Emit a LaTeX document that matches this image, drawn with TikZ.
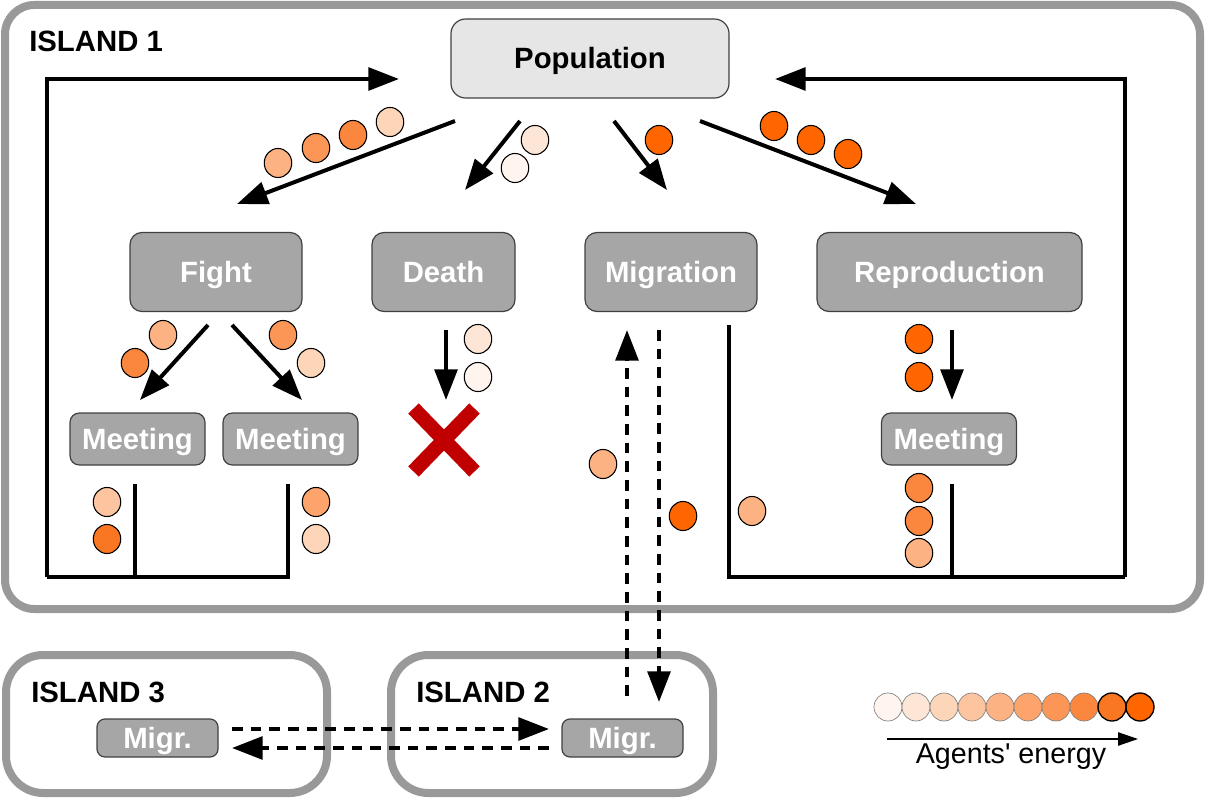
\documentclass[tikz,border=0pt]{standalone}
\usepackage{fontspec}
\setmainfont{Liberation Sans}
\newfontfamily\plainfont{Liberation Sans}[Ligatures=TeXOff]
\usetikzlibrary{arrows.meta,shapes.geometric}
\definecolor{islandgray}{HTML}{999999}
\definecolor{boxgray}{HTML}{A6A6A6}
\definecolor{popgray}{HTML}{E6E6E6}
\definecolor{boxline}{HTML}{404040}
\definecolor{xred}{HTML}{C00000}
\definecolor{e1}{HTML}{FFF5EE}
\definecolor{e2}{HTML}{FEE6D6}
\definecolor{e3}{HTML}{FDD5B8}
\definecolor{e4}{HTML}{FDC4A0}
\definecolor{e5}{HTML}{FCB282}
\definecolor{e6}{HTML}{FCA46C}
\definecolor{e7}{HTML}{FB9656}
\definecolor{e8}{HTML}{FA873D}
\definecolor{e9}{HTML}{F97722}
\definecolor{e10}{HTML}{FF6600}
\begin{document}
\begin{tikzpicture}[x=0.75pt,y=-0.75pt,
  island/.style={draw=islandgray, line width=6pt},
  lbl/.style={font=\fontsize{22}{26}\selectfont\bfseries, inner sep=0pt, anchor=base west},
  gbox/.style={draw=boxline, line width=0.9pt, fill=boxgray, rounded corners=9pt, text=white,
    font=\fontsize{22}{26}\selectfont\bfseries, inner sep=0pt, text height=15.7pt, text depth=0pt},
  popbox/.style={gbox, fill=popgray, text=black, rounded corners=11pt},
  arr/.style={line width=3pt, -{Triangle[length=23pt,width=17pt]}},
  darr/.style={arr, dash pattern=on 8pt off 6pt},
  loopline/.style={line width=3pt},
  ag/.style={ellipse, draw=black, line width=0.8pt, minimum width=20.6pt, minimum height=21.8pt, inner sep=0pt},
  leg/.style={circle, draw=gray, line width=0.5pt, minimum size=21pt, inner sep=0pt}
]
\useasboundingbox (0,0) rectangle (1208,799);
% islands
\draw[island, rounded corners=22pt] (5,5) rectangle (1200,609);
\draw[island, rounded corners=28pt] (6,655) rectangle (327,793);
\draw[island, rounded corners=28pt] (391,655) rectangle (713,793);
\node[lbl] (i1) at (29,52) {ISLAND 1};
\node[lbl] (i3) at (31,702) {ISLAND 3};
\node[lbl] (i2) at (416,702) {ISLAND 2};

% boxes
\node[popbox, minimum width=208.5pt, minimum height=59.25pt] (pop) at (590,58.5) {Population};
\node[gbox, minimum width=129pt, minimum height=59.25pt] (fight) at (216,272) {Fight};
\node[gbox, minimum width=107.25pt, minimum height=59.25pt] (death) at (443.5,272) {Death};
\node[gbox, minimum width=129pt, minimum height=59.25pt] (migr) at (671,272) {Migration};
\node[gbox, minimum width=198.75pt, minimum height=59.25pt] (repro) at (949.5,272) {Reproduction};
\node[gbox, minimum width=101.25pt, minimum height=39pt, rounded corners=7pt] (meet1) at (137.5,439) {Meeting};
\node[gbox, minimum width=101.25pt, minimum height=39pt, rounded corners=7pt] (meet2) at (290.5,439) {Meeting};
\node[gbox, minimum width=101.25pt, minimum height=39pt, rounded corners=7pt] (meet3) at (949,439) {Meeting};
\node[gbox, minimum width=90.75pt, minimum height=28.5pt, rounded corners=6pt] (migr3) at (157.5,738) {Migr.};
\node[gbox, minimum width=90.75pt, minimum height=28.5pt, rounded corners=6pt] (migr2) at (622.5,738) {Migr.};

% arrow end points
\coordinate (pf1) at (455,121); \coordinate (pf2) at (237,204);
\coordinate (pd1) at (520,121); \coordinate (pd2) at (465,190);
\coordinate (pm1) at (614,121); \coordinate (pm2) at (667,190);
\coordinate (pr1) at (700,121); \coordinate (pr2) at (916,204);
\coordinate (fm1a) at (208,325); \coordinate (fm1b) at (140,400);
\coordinate (fm2a) at (232,325); \coordinate (fm2b) at (302,400);
\coordinate (dxa) at (446,330); \coordinate (dxb) at (446,400);
\coordinate (rma) at (952,330); \coordinate (rmb) at (952,400);
\draw[arr] (pf1) -- (pf2);
\draw[arr] (pd1) -- (pd2);
\draw[arr] (pm1) -- (pm2);
\draw[arr] (pr1) -- (pr2);
\draw[arr] (fm1a) -- (fm1b);
\draw[arr] (fm2a) -- (fm2b);
\draw[arr] (dxa) -- (dxb);
\draw[arr] (rma) -- (rmb);

% left loop
\coordinate (l1) at (135,484); \coordinate (l2) at (288,484);
\coordinate (lc1) at (135,577); \coordinate (lc2) at (288,577);
\coordinate (lc0) at (47,577); \coordinate (lt0) at (47,79); \coordinate (ltip) at (399,79);
\draw[loopline] (l1) -- (lc1);
\draw[loopline] (l2) -- (lc2) -- (lc0);
\draw[arr] (lc0) -- (lt0) -- (ltip);
% right loop
\coordinate (r1) at (729,325); \coordinate (rc1) at (729,577);
\coordinate (r2) at (952,484); \coordinate (rc2) at (952,577);
\coordinate (rc3) at (1125,577); \coordinate (rt3) at (1125,79); \coordinate (rtip) at (775,79);
\draw[loopline] (r2) -- (rc2);
\draw[loopline] (r1) -- (rc1) -- (rc3);
\draw[arr] (rc3) -- (rt3) -- (rtip);

% migration dashed arrows
\coordinate (mu1) at (627,696); \coordinate (mu2) at (627,330);
\coordinate (md1) at (659,330); \coordinate (md2) at (659,702);
\draw[darr] (mu1) -- (mu2);
\draw[darr] (md1) -- (md2);
\coordinate (h1a) at (232,729); \coordinate (h1b) at (549,729);
\coordinate (h2a) at (549,748); \coordinate (h2b) at (232,748);
\draw[darr] (h1a) -- (h1b);
\draw[darr] (h2a) -- (h2b);

% red cross
\draw[xred, line width=11pt] (413.5,408.5) -- (474.5,471.5);
\draw[xred, line width=11pt] (413.5,471.5) -- (474.5,408.5);

% agents
\node[ag, fill=e5] (a1) at (278,163) {};
\node[ag, fill=e7] (a2) at (316,148) {};
\node[ag, fill=e8] (a3) at (353,135) {};
\node[ag, fill=e3] (a4) at (390,122) {};
\node[ag, fill=e2] (a5) at (535,140) {};
\node[ag, fill=e1] (a6) at (515,168) {};
\node[ag, fill=e10] (a7) at (659,140) {};
\node[ag, fill=e10] (a8) at (774,126) {};
\node[ag, fill=e10] (a9) at (811,140) {};
\node[ag, fill=e10] (a10) at (848,154) {};
\node[ag, fill=e5] (b1) at (163,335) {};
\node[ag, fill=e8] (b2) at (135,363) {};
\node[ag, fill=e7] (b3) at (283,335) {};
\node[ag, fill=e3] (b4) at (311,363) {};
\node[ag, fill=e2] (b5) at (478,339) {};
\node[ag, fill=e1] (b6) at (478,377) {};
\node[ag, fill=e10] (b7) at (919,339) {};
\node[ag, fill=e10] (b8) at (919,377) {};
\node[ag, fill=e4] (c1) at (107,502) {};
\node[ag, fill=e9] (c2) at (107,539) {};
\node[ag, fill=e6] (c3) at (316,502) {};
\node[ag, fill=e3] (c4) at (316,539) {};
\node[ag, fill=e5] (c5) at (603,464) {};
\node[ag, fill=e10] (c6) at (683,516) {};
\node[ag, fill=e5] (c7) at (752,511) {};
\node[ag, fill=e8] (c8) at (919,488) {};
\node[ag, fill=e8] (c9) at (919,521) {};
\node[ag, fill=e5] (c10) at (919,553) {};

% legend
\node[leg, fill=e1] (g1) at (888,707) {};
\node[leg, fill=e2] (g2) at (916,707) {};
\node[leg, fill=e3] (g3) at (944,707) {};
\node[leg, fill=e4] (g4) at (972,707) {};
\node[leg, fill=e5] (g5) at (1000,707) {};
\node[leg, fill=e6] (g6) at (1028,707) {};
\node[leg, fill=e7] (g7) at (1056,707) {};
\node[leg, fill=e8] (g8) at (1084,707) {};
\node[leg, fill=e9, draw=black, line width=1pt] (g9) at (1112,707) {};
\node[leg, fill=e10, draw=black, line width=1pt] (g10) at (1140,707) {};
\coordinate (la) at (887,739); \coordinate (lb) at (1138,739);
\draw[line width=1.1pt, -{Triangle[length=15pt,width=10pt]}] (la) -- (lb);
\node[font=\plainfont\fontsize{21.5}{25}\selectfont, inner sep=0pt, anchor=base] (lt) at (1011,763) {Agents' energy};
\end{tikzpicture}
\end{document}
